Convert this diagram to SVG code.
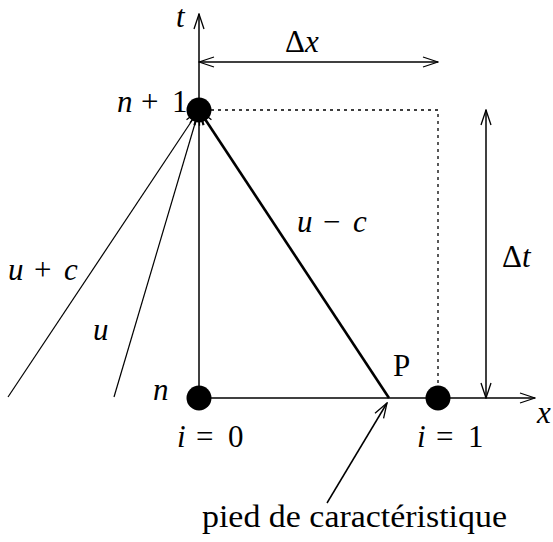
<svg xmlns="http://www.w3.org/2000/svg" width="553" height="542" viewBox="0 0 553 542">
<style>
.ln{stroke:#000;fill:none;stroke-width:1.5}
.th{stroke:#000;fill:none;stroke-width:1.2}
.bold{stroke:#000;fill:none;stroke-width:2.6}
.dot{stroke:#000;fill:none;stroke-width:1.3;stroke-dasharray:3 4}
.nd{fill:#000}
text{font-family:'Liberation Serif','Times New Roman',Times,serif;font-size:31px;fill:#000}
.it{font-style:italic}
</style>
<defs>
<marker id="ah" viewBox="-16 -6 17 12" refX="0" refY="0" markerWidth="17" markerHeight="12" markerUnits="userSpaceOnUse" orient="auto-start-reverse">
<path d="M-15,-5 L0,0 L-15,5" fill="none" stroke="#000" stroke-width="1.3"/>
</marker>
</defs>
<rect width="553" height="542" fill="#fff"/>
<g id="connectors">
<line class="ln" x1="199" y1="110" x2="199" y2="14" marker-end="url(#ah)"/>
<line class="ln" x1="199" y1="398" x2="535" y2="398" marker-end="url(#ah)"/>
<line class="ln" x1="199" y1="398" x2="199" y2="110" marker-end="url(#ah)"/>
<line class="th" x1="8" y1="397" x2="199" y2="110" marker-end="url(#ah)"/>
<line class="th" x1="114" y1="397" x2="199" y2="110" marker-end="url(#ah)"/>
<line class="bold" x1="389" y1="398" x2="199" y2="110" marker-end="url(#ah)"/>
<line class="ln" x1="199" y1="62" x2="438" y2="62" marker-start="url(#ah)" marker-end="url(#ah)"/>
<line class="ln" x1="486" y1="110" x2="486" y2="398" marker-start="url(#ah)" marker-end="url(#ah)"/>
<polyline class="dot" points="211,110 438,110 438,386"/>
<line class="ln" x1="327" y1="503" x2="387" y2="403" marker-end="url(#ah)"/>
</g>
<g id="node-n1"><circle class="nd" cx="199" cy="110" r="12.5"/></g>
<g id="node-n"><circle class="nd" cx="199" cy="398" r="12.5"/></g>
<g id="node-i1"><circle class="nd" cx="438" cy="398" r="12.5"/></g>
<g id="labels">
<text x="176" y="27" class="it">t</text>
<text x="285" y="52">Δ<tspan class="it">x</tspan></text>
<text x="117" y="112"><tspan class="it">n</tspan><tspan x="141">+</tspan><tspan x="172">1</tspan></text>
<text x="297" y="232"><tspan class="it">u</tspan><tspan x="323">−</tspan><tspan x="353" class="it">c</tspan></text>
<text x="502" y="267">Δ<tspan class="it">t</tspan></text>
<text x="8" y="280"><tspan class="it">u</tspan><tspan x="34">+</tspan><tspan x="64" class="it">c</tspan></text>
<text x="93" y="340" class="it">u</text>
<text x="153" y="400" class="it">n</text>
<text x="393" y="376">P</text>
<text x="537" y="423" class="it">x</text>
<text x="177" y="447"><tspan class="it">i</tspan><tspan x="196">=</tspan><tspan x="228">0</tspan></text>
<text x="417" y="447"><tspan class="it">i</tspan><tspan x="436">=</tspan><tspan x="468">1</tspan></text>
<text x="202" y="527" textLength="305" lengthAdjust="spacingAndGlyphs">pied de caractéristique</text>
</g>
</svg>
